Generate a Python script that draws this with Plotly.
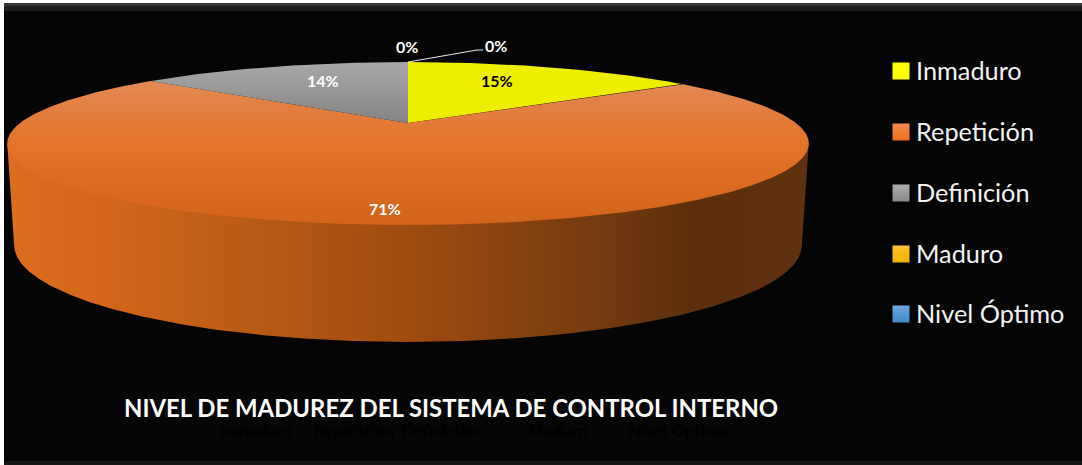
import numpy as np
import plotly.graph_objects as go

categories = ["Inmaduro", "Repetición", "Definición", "Maduro", "Nivel Óptimo"]
values = [15, 71, 14, 0, 0]
title_text = "NIVEL DE MADUREZ DEL SISTEMA DE CONTROL INTERNO"

W, H = 1082, 465
CX, APEX_Y = 408, 123
K, A, B = 0.2515, 388.0, 76.3
TOP_CY, TOP_RX, TOP_RY = 143.5, 401.0, 81.5
LOW_CY, LOW_RX, LOW_RY = 245.0, 394.0, 97.0
FONT = "Lato, Carlito, 'Open Sans', sans-serif"


def rim(theta):
    X, Y = np.sin(theta), np.cos(theta)
    w = 1 + K * Y
    return CX + A * X / w, APEX_Y - B * Y / w


def lower(x, y):
    return CX + (x - CX) * LOW_RX / TOP_RX, LOW_CY + (y - TOP_CY) * LOW_RY / TOP_RY


face_fill = [
    dict(fillcolor="#EEEE00"),
    dict(fillgradient=dict(type="vertical", colorscale=[[0, "#D4631A"], [0.58, "#E5752A"], [0.85, "#E38045"], [1, "#E38A55"]])),
    dict(fillgradient=dict(type="vertical", colorscale=[[0, "#848484"], [1, "#A8A8A8"]])),
    dict(fillcolor="#F5B800"),
    dict(fillcolor="#5B9BD5"),
]
legend_colors = [("#FFFF00", "#FFFF00"), ("#F58A50", "#EE6F1C"), ("#ACACAC", "#8A8A8A"), ("#FFC233", "#F2B200"), ("#6FA8DC", "#3F87C8")]

fig = go.Figure()

# side wall (its upper edge tucks just under the top face so no seam shows)
t = np.linspace(0, 2 * np.pi, 1441)
rx_, ry_ = rim(t)
i_right, i_left = int(np.argmax(rx_)), int(np.argmin(rx_))
front = np.arange(i_right, i_left + 1)
fx, fy = rx_[front], ry_[front]
lx, ly = lower(fx, fy)
fig.add_trace(go.Scatter(
    x=np.r_[fx, lx[::-1]], y=np.r_[fy - 2, ly[::-1]], mode="lines", line=dict(width=0), fill="toself",
    hoverinfo="skip", showlegend=False,
    fillgradient=dict(type="horizontal", colorscale=[
        [0, "#DE6E1E"], [0.12, "#D4661B"], [0.28, "#BC5C16"], [0.5, "#A04C10"],
        [0.74, "#733A10"], [0.86, "#5C2E0E"], [1, "#60310F"]]),
))

# top face, one sector per category
start = 0.0
total = sum(values)
for name, v, style in zip(categories, values, face_fill):
    sweep = v / total * 2 * np.pi
    th = np.linspace(start, start + sweep, max(2, int(v * 8) + 2))
    sx, sy = rim(th)
    fig.add_trace(go.Scatter(
        x=np.r_[CX, sx, CX], y=np.r_[APEX_Y, sy, APEX_Y], mode="lines", line=dict(width=0),
        fill="toself", name=name, hoverinfo="name", showlegend=False, **style))
    start += sweep

# leader line of the second 0% label
tip_x, tip_y = rim(np.array([0.0]))
fig.add_trace(go.Scatter(x=[tip_x[0], 477, 483], y=[tip_y[0], 50, 50], mode="lines",
                         line=dict(color="#E8E8E8", width=1), hoverinfo="skip", showlegend=False))

# legend swatches
legend_y = [71, 132, 193, 254, 314]
for name, y, (c1, c2) in zip(categories, legend_y, legend_colors):
    fig.add_trace(go.Scatter(
        x=[901], y=[y], mode="markers", name=name,
        marker=dict(symbol="square", size=17, color=c1, gradient=dict(type="vertical", color=c2), line=dict(width=0)),
        hoverinfo="skip", showlegend=False))

# data labels
labels = [(497, 80.5, values[0], "#000000"), (385, 208, values[1], "#FFFFFF"), (323, 80.5, values[2], "#FFFFFF"),
          (407, 46, values[3], "#FFFFFF"), (496, 45, values[4], "#FFFFFF")]
ann = [dict(x=x, y=y, text=f"<b>{v}%</b>", showarrow=False, xref="x", yref="y",
            font=dict(family=FONT, size=16, color=c)) for x, y, v, c in labels]
ann.append(dict(x=451, y=407.5, text=f"<b>{title_text}</b>", showarrow=False, xref="x", yref="y",
                font=dict(family=FONT, size=23.9, color="#FFFFFF")))
# legend texts
for name, y in zip(categories, legend_y):
    ann.append(dict(x=914, y=y - 1.5, text=name, showarrow=False, xref="x", yref="y", xanchor="left", yanchor="middle",
                    font=dict(family=FONT, size=25.3, color="#F2F2F2")))
# nearly invisible category axis labels
for name, x in zip(categories, [256, 354, 440, 558, 679]):
    ann.append(dict(x=x, y=430, text=f"<b>{name}</b>", showarrow=False, xref="x", yref="y",
                    font=dict(family=FONT, size=17, color="#000000")))

shapes = [dict(type="rect", x0=4, x1=W, y0=3, y1=461, fillcolor="#050505", line=dict(width=0), layer="below", xref="x", yref="y"),
          dict(type="rect", x0=4, x1=W, y0=3, y1=6, fillcolor="#353535", line=dict(width=0), layer="below", xref="x", yref="y"),
          dict(type="rect", x0=4, x1=W, y0=6, y1=11, fillcolor="#1C1C1C", line=dict(width=0), layer="below", xref="x", yref="y"),
          dict(type="rect", x0=4, x1=W, y0=461, y1=H, fillcolor="#161616", line=dict(width=0), layer="below", xref="x", yref="y")]

fig.update_layout(
    width=W, height=H, margin=dict(l=0, r=0, t=0, b=0), paper_bgcolor="#FFFFFF", plot_bgcolor="#FFFFFF",
    xaxis=dict(range=[0, W], visible=False, fixedrange=True),
    yaxis=dict(range=[H, 0], visible=False, fixedrange=True),
    annotations=ann, shapes=shapes, showlegend=False,
)
fig.write_html("out.html", config=dict(displayModeBar=False),
               post_script="document.body.style.margin='0';document.documentElement.style.overflow='hidden';")
